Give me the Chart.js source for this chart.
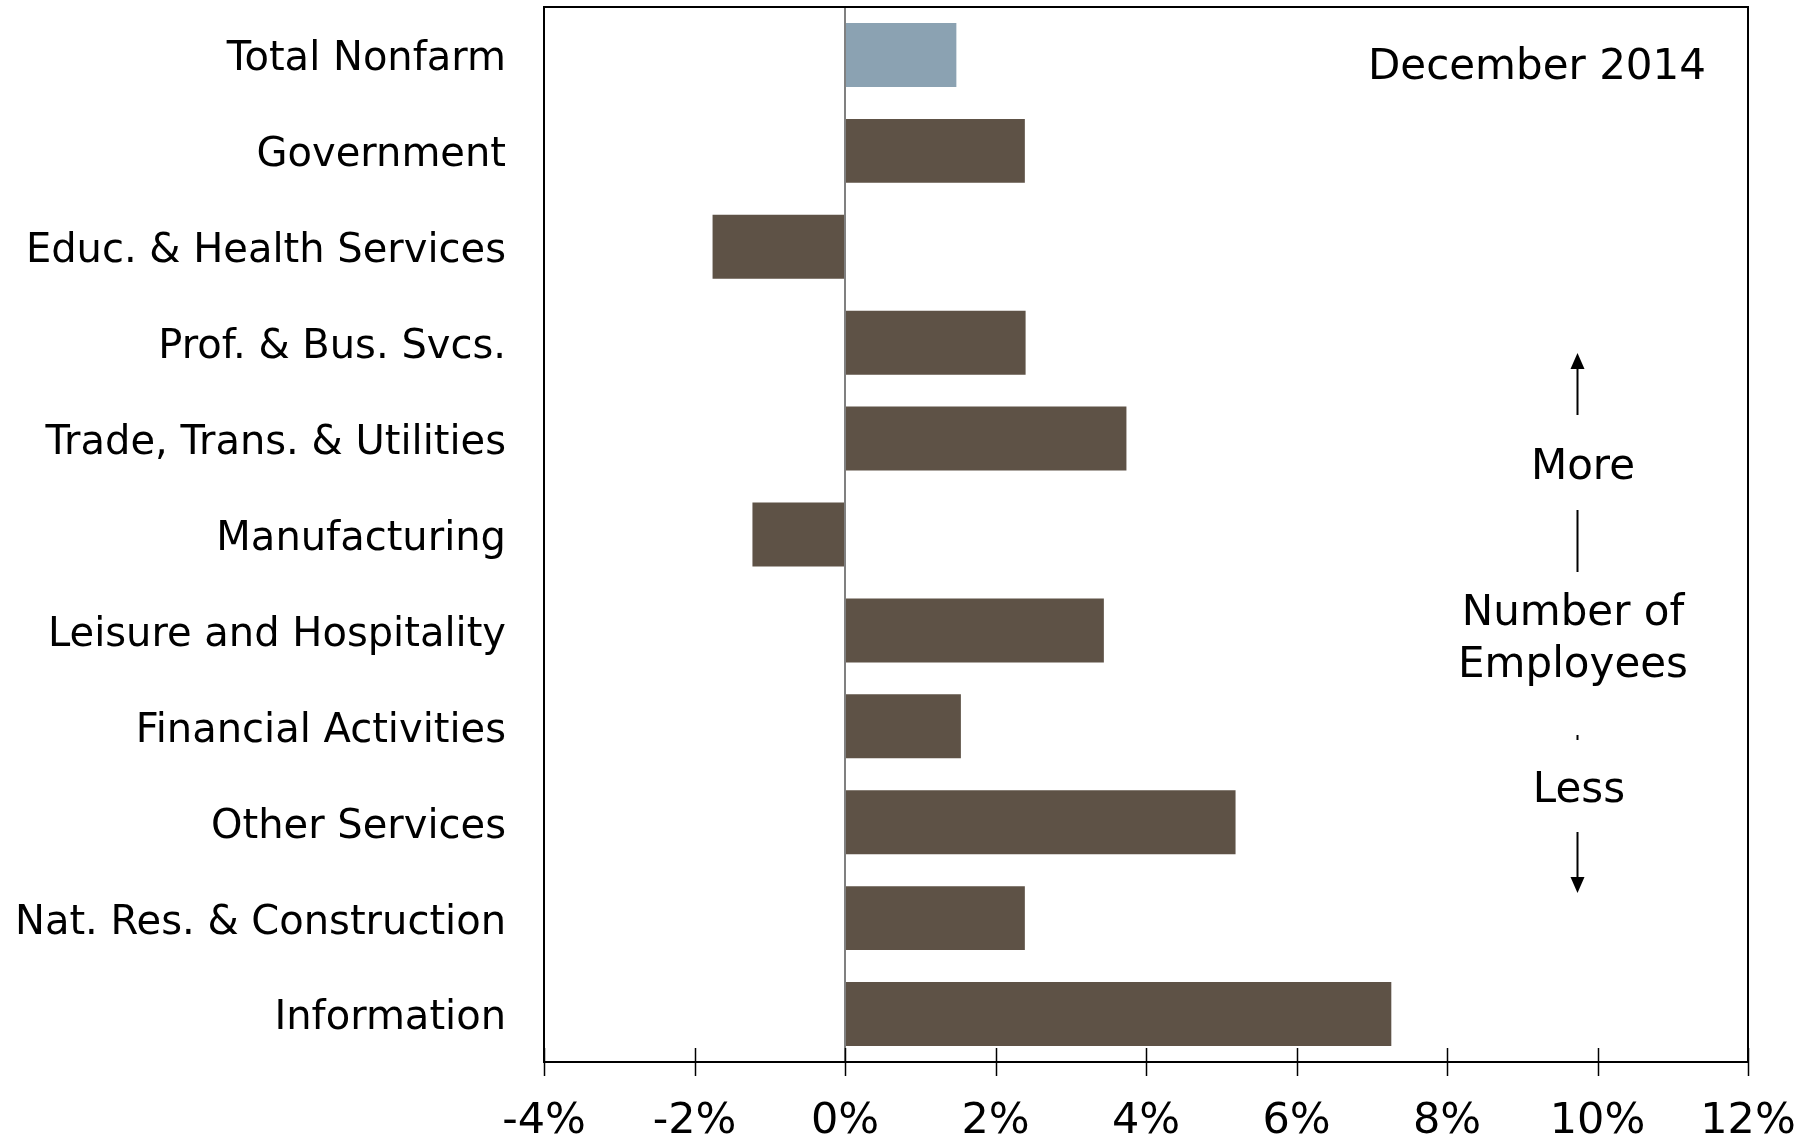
<!DOCTYPE html>
<html>
<head>
<meta charset="utf-8">
<script src="https://cdn.jsdelivr.net/npm/chart.js@4.4.1/dist/chart.umd.min.js"></script>
<style>
  html, body { margin: 0; padding: 0; background: #fff; }
</style>
</head>
<body>
<canvas id="chart" width="1818" height="1138"></canvas>
<script>
const categories = [
  'Total Nonfarm',
  'Government',
  'Educ. & Health Services',
  'Prof. & Bus. Svcs.',
  'Trade, Trans. & Utilities',
  'Manufacturing',
  'Leisure and Hospitality',
  'Financial Activities',
  'Other Services',
  'Nat. Res. & Construction',
  'Information'
];
const growth = [1.48, 2.39, -1.76, 2.40, 3.74, -1.23, 3.44, 1.54, 5.19, 2.39, 7.26];
const xTicks = [-4, -2, 0, 2, 4, 6, 8, 10, 12];
const barColors = categories.map((c, i) => i === 0 ? '#8BA2B2' : '#5E5246');

const notes = [
  { text: 'December 2014', x: 1537, y: 68 },
  { text: 'More', x: 1583, y: 468 },
  { text: 'Number of', x: 1573, y: 614 },
  { text: 'Employees', x: 1573, y: 666 },
  { text: 'Less', x: 1579, y: 791 }
];

const FONT = '"DejaVu Sans", Verdana, sans-serif';

// box round the plot, tick marks that cross the axis, and the side notes
const frame = {
  id: 'frame',
  afterDraw(chart) {
    const { ctx, chartArea: a, scales: { x } } = chart;
    ctx.save();
    ctx.strokeStyle = '#000';
    ctx.lineWidth = 2;
    ctx.strokeRect(a.left, a.top, a.right - a.left, a.bottom - a.top);

    ctx.lineWidth = 1.5;
    xTicks.forEach(v => {
      const px = Math.round(x.getPixelForValue(v)) + 0.5;
      ctx.beginPath();
      ctx.moveTo(px, a.bottom - 14);
      ctx.lineTo(px, a.bottom + 14);
      ctx.stroke();
    });

    ctx.fillStyle = '#000';
    ctx.font = '42px ' + FONT;
    ctx.textAlign = 'center';
    ctx.textBaseline = 'middle';
    notes.forEach(n => ctx.fillText(n.text, n.x, n.y));

    // arrows
    const ax = 1577.5;
    ctx.lineWidth = 2;
    const seg = (y1, y2) => { ctx.beginPath(); ctx.moveTo(ax, y1); ctx.lineTo(ax, y2); ctx.stroke(); };
    seg(368, 415);
    seg(510, 572);
    seg(735, 740);
    seg(832, 880);
    ctx.beginPath();
    ctx.moveTo(ax, 353); ctx.lineTo(ax - 7, 369); ctx.lineTo(ax + 7, 369); ctx.closePath(); ctx.fill();
    ctx.beginPath();
    ctx.moveTo(ax, 893); ctx.lineTo(ax - 7, 877); ctx.lineTo(ax + 7, 877); ctx.closePath(); ctx.fill();
    ctx.restore();
  }
};

new Chart(document.getElementById('chart'), {
  type: 'bar',
  data: {
    labels: categories,
    datasets: [{
      data: growth,
      backgroundColor: barColors,
      borderWidth: 0,
      barPercentage: 1,
      categoryPercentage: 0.667
    }]
  },
  options: {
    indexAxis: 'y',
    responsive: false,
    animation: false,
    layout: { padding: { top: 7, right: 70, left: 0, bottom: 0 } },
    plugins: { legend: { display: false }, tooltip: { enabled: false } },
    scales: {
      x: {
        min: -4,
        max: 12,
        afterBuildTicks: s => { s.ticks = xTicks.map(v => ({ value: v })); },
        afterFit: s => { s.height = 76; s.paddingLeft = 0; s.paddingRight = 0; },
        border: { display: false },
        grid: {
          drawTicks: false,
          lineWidth: 2,
          color: c => (c.tick && c.tick.value === 0) ? '#808080' : 'rgba(0,0,0,0)'
        },
        ticks: {
          padding: 34,
          color: '#000',
          font: { family: FONT, size: 43 },
          maxRotation: 0,
          callback: v => v + '%'
        }
      },
      y: {
        afterFit: s => { s.width = 544; s.paddingTop = 0; s.paddingBottom = 0; },
        border: { display: false },
        grid: { display: false, drawTicks: false },
        ticks: {
          padding: 38,
          labelOffset: 5,
          color: '#000',
          font: { family: FONT, size: 40 }
        }
      }
    }
  },
  plugins: [frame]
});
</script>
</body>
</html>
